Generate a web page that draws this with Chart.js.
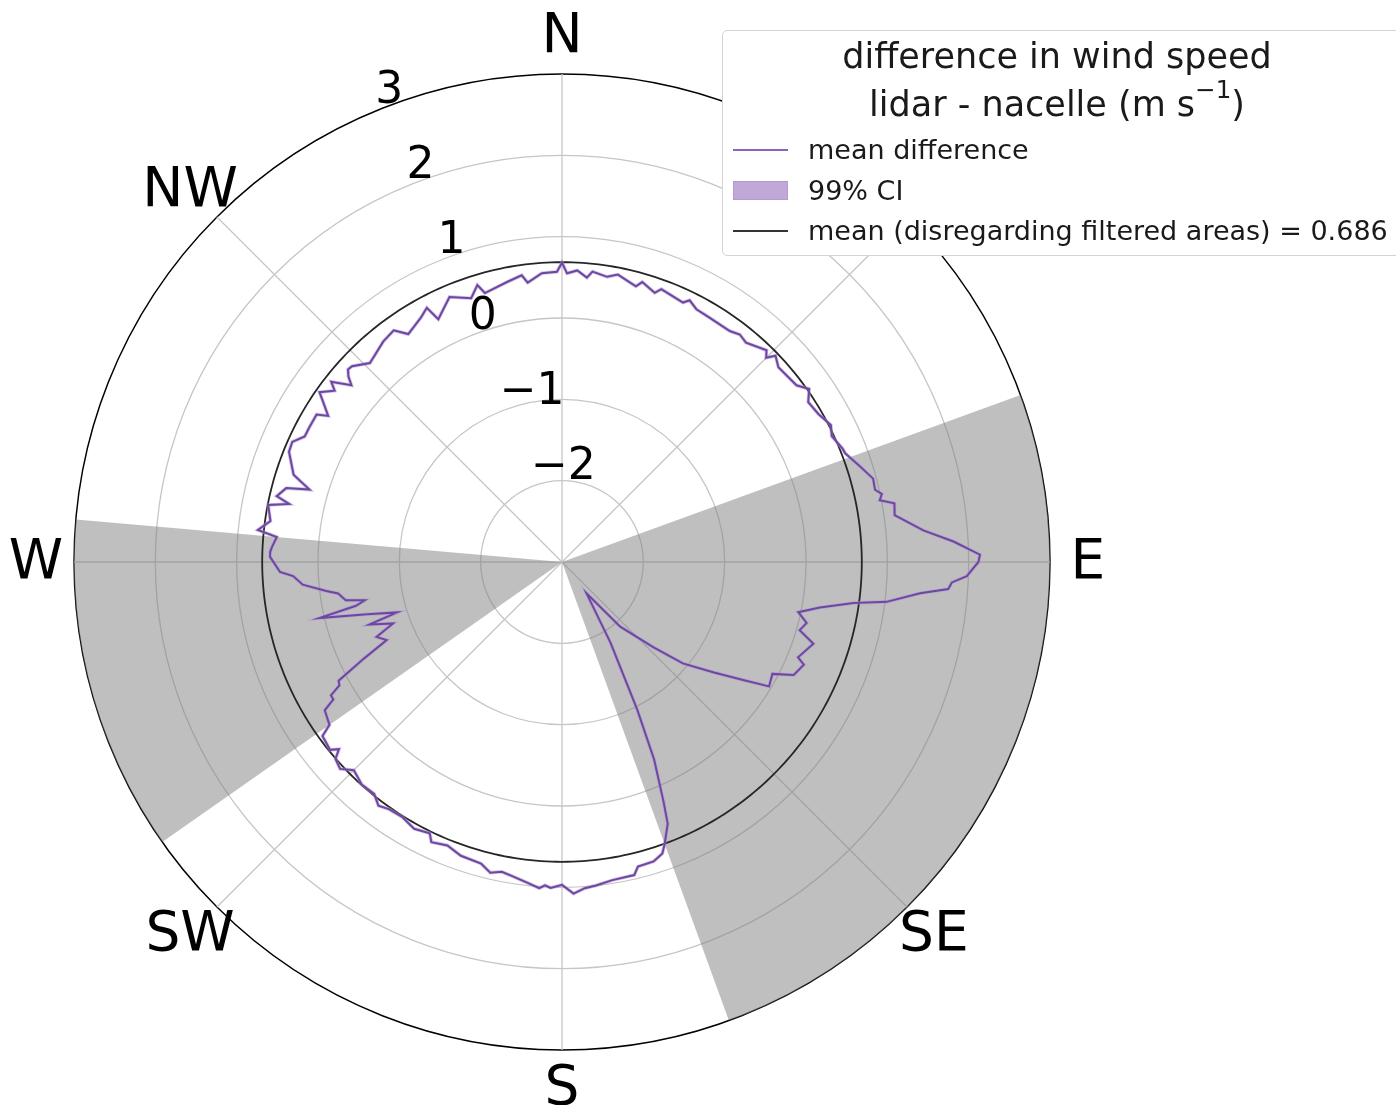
<!DOCTYPE html>
<html>
<head>
<meta charset="utf-8">
<script src="https://cdn.jsdelivr.net/npm/chart.js@4/dist/chart.umd.min.js"></script>
<style>
  html, body { margin: 0; padding: 0; background: #fff; overflow: hidden; }
  #wrap { position: relative; width: 1396px; height: 1105px; overflow: hidden; font-family: "DejaVu Sans", sans-serif; color: #1a1a1a; }
  #chart { position: absolute; left: 0; top: 0; }
  .legend { position: absolute; left: 722px; top: 30px; width: 720px; height: 224px; background: #fff;
            border: 1px solid #d4d4d4; border-radius: 5px; }
  .legend .title { position: absolute; left: 0; top: 1px; width: 668px; text-align: center; font-size: 35px; line-height: 48px; }
  .legend sup { font-size: 0.7em; position: relative; top: -0.1em; vertical-align: top; line-height: 1; }
  .legend .item { position: absolute; left: 85px; font-size: 27px; line-height: 30px; white-space: nowrap; }
  .legend .handle { position: absolute; left: 10px; width: 55px; }
</style>
</head>
<body>
<div id="wrap">
  <canvas id="chart" width="1396" height="1105"></canvas>
  <div class="legend">
    <div class="title">difference in wind speed<br>lidar - nacelle (m s<sup>−1</sup>)</div>
    <div class="handle" style="top:118px;height:2px;background:#8a63bd;"></div>
    <div class="item" style="top:104px;">mean difference</div>
    <div class="handle" style="top:150px;height:19px;background:#c0a9d9;border:1px solid #b39bd0;box-sizing:border-box;"></div>
    <div class="item" style="top:145px;">99% CI</div>
    <div class="handle" style="top:199px;height:2px;background:#333;"></div>
    <div class="item" style="top:185px;">mean (disregarding filtered areas) = 0.686</div>
  </div>
</div>
<script>
// wind direction bins (degrees, clockwise from north)
const bearings = Array.from({ length: 360 }, (_, i) => i);

// mean difference lidar - nacelle (m/s)
const diffBearings = [0, 1, 3, 5, 6, 9, 11, 15, 16, 19, 20, 25, 26, 28, 31, 36, 38, 40, 44, 45, 46, 48, 53, 55, 57, 60, 63, 65, 68, 69,
  72, 75, 77, 78, 79, 80, 82, 85, 87, 89, 90, 92, 93, 94, 95, 97, 98, 100, 102, 104, 106, 108, 112, 113, 116, 118, 121, 123, 126, 130,
  133, 138, 142, 149, 153, 155, 157, 158, 160, 161, 162, 163, 166, 167, 171, 174, 176, 178, 180, 182, 183, 184, 186, 189, 191, 193, 195, 199,
  202, 205, 206, 209, 212, 215, 217, 219, 222, 225, 227, 229, 230, 231, 234, 235, 238, 239, 240, 241, 242, 244, 246, 248, 250, 252, 253, 255,
  257, 258, 259, 260, 262, 263, 265, 267, 268, 271, 272, 273, 275, 276, 278, 281, 282, 283, 285, 286, 288, 292, 294, 296, 298, 301, 302, 304,
  305, 307, 308, 310, 311, 312, 313, 316, 321, 324, 326, 330, 332, 333, 337, 341, 343, 344, 349, 352, 353, 356, 359];
const diffValues = [0.68, 0.55, 0.59, 0.51, 0.59, 0.55, 0.60, 0.51, 0.58, 0.50, 0.57, 0.52, 0.58, 0.52, 0.51, 0.51, 0.55, 0.52, 0.62, 0.55, 0.65, 0.58, 0.61, 0.71, 0.61, 0.64, 0.71, 0.66, 0.72, 0.73,
  0.84, 0.96, 0.95, 1.02, 0.98, 1.15, 1.13, 1.46, 1.82, 2.14, 2.12, 1.98, 1.80, 1.76, 1.42, 1.02, 0.62, 0.22, -0.03, 0.10, 0.04, 0.25, 0.13, 0.23, 0.17, -0.07, -0.03, -0.33, -0.69, -1.06,
  -1.46, -1.93, -2.51, -1.84, -0.96, -0.32, 0.19, 0.47, 0.69, 0.79, 0.82, 0.85, 0.86, 0.95, 0.96, 1.00, 1.02, 1.08, 0.97, 1.01, 0.98, 1.02, 0.97, 0.91, 0.88, 0.92, 0.84, 0.82,
  0.76, 0.80, 0.71, 0.75, 0.70, 0.71, 0.75, 0.67, 0.68, 0.62, 0.73, 0.69, 0.58, 0.67, 0.64, 0.49, 0.44, 0.28, 0.28, 0.13, 0.11, -0.29, -0.64, -0.54, -0.79, -0.51, -0.88, -0.52,
  0.06, -0.41, -0.53, -0.30, -0.22, -0.08, 0.20, 0.31, 0.47, 0.59, 0.59, 0.57, 0.52, 0.76, 0.62, 0.68, 0.43, 0.60, 0.51, 0.23, 0.47, 0.62, 0.63, 0.52, 0.52, 0.52, 0.39, 0.55,
  0.64, 0.50, 0.60, 0.38, 0.48, 0.54, 0.53, 0.40, 0.49, 0.52, 0.38, 0.47, 0.54, 0.35, 0.54, 0.43, 0.56, 0.44, 0.51, 0.56, 0.46, 0.56, 0.57];

const meanValue = 0.686;

// filtered direction sectors [from, to] in degrees
const filteredSectors = [[70, 160], [235, 275]];

const compassLabels = ['N', 'NE', 'E', 'SE', 'S', 'SW', 'W', 'NW'];
const rMin = -3;
const rMax = 3;
const rLabelBearing = 337.5;

const diffData = bearings.map(() => null);
diffBearings.forEach((b, i) => { diffData[b] = diffValues[i]; });

const meanData = bearings.map(() => meanValue);
const sectorData = bearings.map(b => filteredSectors.some(([a, z]) => b >= a && b <= z) ? rMax : rMin);

const fmtTick = v => (v < 0 ? '\u2212' + Math.abs(v) : String(v));

const polarText = {
    id: 'polarText',
    afterDatasetsDraw(chart) {
        const scale = chart.scales.r;
        const ctx = chart.ctx;
        const n = bearings.length;
        ctx.save();
        ctx.fillStyle = '#000';

        // radial tick labels
        ctx.font = '44px "DejaVu Sans"';
        ctx.textAlign = 'left';
        ctx.textBaseline = 'alphabetic';
        scale.ticks.forEach(t => {
            if (t.value <= scale.min) return;
            const p = scale.getPointPosition(rLabelBearing * n / 360, scale.getDistanceFromCenterForValue(t.value));
            ctx.fillText(fmtTick(t.value), p.x, p.y - 8);
        });

        // compass directions
        ctx.font = '55px "DejaVu Sans"';
        ctx.textAlign = 'center';
        ctx.textBaseline = 'middle';
        compassLabels.forEach((lab, i) => {
            const p = scale.getPointPosition(i * 45 * n / 360, scale.drawingArea + 38);
            ctx.fillText(lab, p.x, p.y + 2);
        });
        ctx.restore();
    }
};

new Chart(document.getElementById('chart').getContext('2d'), {
    type: 'radar',
    data: {
        labels: bearings,
        datasets: [
            {
                label: 'mean difference',
                data: diffData,
                borderColor: '#6d48a0',
                borderWidth: 2,
                pointRadius: 0,
                spanGaps: true,
                fill: false,
                tension: 0,
                clip: false
            },
            {
                label: '99% CI',
                data: diffData,
                borderColor: 'rgba(176, 146, 214, 0.55)',
                borderWidth: 3.6,
                pointRadius: 0,
                spanGaps: true,
                fill: false,
                tension: 0,
                clip: false
            },
            {
                label: 'mean (disregarding filtered areas) = 0.686',
                data: meanData,
                borderColor: '#262626',
                borderWidth: 1.8,
                pointRadius: 0,
                fill: false,
                clip: false
            },
            {
                label: 'filtered',
                data: sectorData,
                borderWidth: 0,
                borderColor: 'rgba(0,0,0,0)',
                backgroundColor: 'rgba(128, 128, 128, 0.5)',
                pointRadius: 0,
                fill: 'start',
                clip: false
            }
        ]
    },
    options: {
        responsive: false,
        animation: false,
        layout: { padding: { left: 74, right: 346, top: 74, bottom: 55 } },
        plugins: {
            legend: { display: false },
            tooltip: { enabled: false }
        },
        scales: {
            r: {
                min: rMin,
                max: rMax,
                ticks: { display: false, stepSize: 1 },
                pointLabels: { display: false },
                grid: {
                    circular: true,
                    color: ctx => (ctx.tick && ctx.tick.value === rMax ? '#000' : '#c6c6c6'),
                    lineWidth: ctx => (ctx.tick && ctx.tick.value === rMax ? 1.4 : 1.3)
                },
                angleLines: {
                    color: '#c6c6c6',
                    lineWidth: ctx => (ctx.index % 45 === 0 ? 1.3 : 0)
                }
            }
        }
    },
    plugins: [polarText]
});
</script>
</body>
</html>
